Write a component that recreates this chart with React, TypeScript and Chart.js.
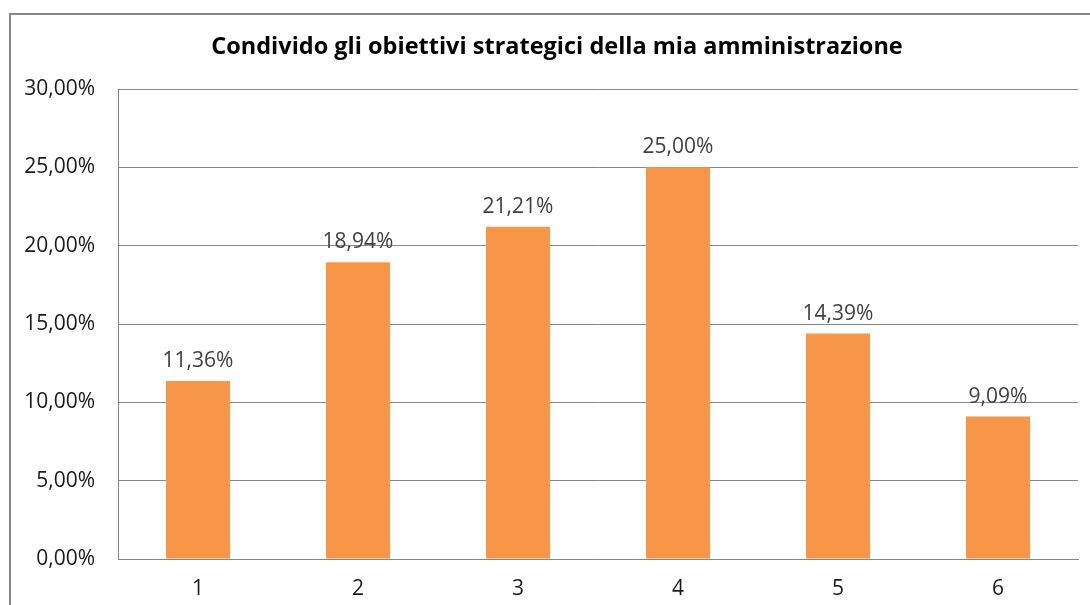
import React, { useEffect, useRef } from "react";
import { Chart, registerables } from "chart.js";

Chart.register(...registerables);

const TITLE = "Condivido gli obiettivi strategici della mia amministrazione";
const categories = ["1", "2", "3", "4", "5", "6"];
const values = [11.36, 18.94, 21.21, 25.0, 14.39, 9.09];
const yTicks = [0, 5, 10, 15, 20, 25, 30];

const fmt = (v: number) => v.toFixed(2).replace(".", ",") + "%";

const FONT = "'Open Sans', 'Noto Sans', sans-serif";

const frame = {
  id: "frame",
  beforeDraw(chart: any) {
    const ctx = chart.ctx;
    ctx.save();
    ctx.fillStyle = "#ffffff";
    ctx.fillRect(0, 0, chart.width, chart.height);
    ctx.strokeStyle = "#868686";
    ctx.lineWidth = 2;
    ctx.strokeRect(10, 14, chart.width + 40, chart.height + 40);
    ctx.font = `bold 23.5px ${FONT}`;
    ctx.fillStyle = "#000000";
    ctx.textAlign = "center";
    ctx.textBaseline = "middle";
    ctx.fillText(TITLE, 557, 47);
    ctx.restore();
  },
};

const labels = {
  id: "barLabels",
  afterDatasetsDraw(chart: any) {
    const ctx = chart.ctx;
    const meta = chart.getDatasetMeta(0);
    ctx.save();
    ctx.font = `21px ${FONT}`;
    ctx.fillStyle = "#404040";
    ctx.textAlign = "center";
    ctx.textBaseline = "alphabetic";
    meta.data.forEach((bar: any, i: number) => {
      ctx.fillText(fmt(values[i]), bar.x, bar.y - 14);
    });
    ctx.restore();
  },
};

export default function App() {
  const ref = useRef<HTMLCanvasElement>(null);
  useEffect(() => {
    if (!ref.current) return;
    const chart = new Chart(ref.current, {
      type: "bar",
      data: {
        labels: categories,
        datasets: [
          {
            data: values,
            backgroundColor: "#F79646",
            borderWidth: 0,
            barPercentage: 0.4,
            categoryPercentage: 1,
          },
        ],
      },
      options: {
        animation: false,
        responsive: true,
        maintainAspectRatio: false,
        layout: { padding: { left: 10, right: 12, top: 89, bottom: 0 } },
        plugins: {
          legend: { display: false },
          tooltip: { enabled: false },
          title: { display: false },
        },
        scales: {
          x: {
            grid: { display: false, drawTicks: false },
            border: { display: true, color: "#868686", width: 1 },
            ticks: {
              color: "#1a1a1a",
              font: { family: FONT, size: 21 },
              padding: 17,
            },
            afterFit(scale: any) {
              scale.height = 46;
            },
          },
          y: {
            min: 0,
            max: 30,
            afterBuildTicks(scale: any) {
              scale.ticks = yTicks.map((v) => ({ value: v }));
            },
            grid: { color: "#868686", lineWidth: 1, drawTicks: false },
            border: { display: true, color: "#868686", width: 1 },
            ticks: {
              color: "#1a1a1a",
              font: { family: FONT, size: 21 },
              padding: 23,
              callback: (v: any) => fmt(Number(v)),
            },
            afterFit(scale: any) {
              scale.width = 108;
            },
          },
        },
      },
      plugins: [frame, labels],
    });
    return () => chart.destroy();
  }, []);
  return (
    <div style={{ position: "absolute", left: 0, top: 0, width: 1090, height: 605 }}>
      <canvas ref={ref} />
    </div>
  );
}
